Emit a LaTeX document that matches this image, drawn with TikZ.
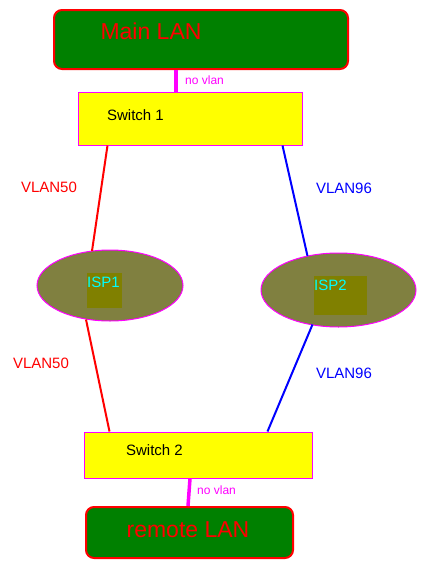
\documentclass[tikz,border=0pt]{standalone}
\usepackage{fontspec}
\setmainfont{Liberation Sans}
\usetikzlibrary{shapes.geometric,calc}
\definecolor{lgreen}{HTML}{008000}
\definecolor{lred}{HTML}{FF0000}
\definecolor{lyellow}{HTML}{FFFF00}
\definecolor{lmag}{HTML}{FF00FF}
\definecolor{lolivegray}{HTML}{808040}
\definecolor{lolive}{HTML}{808000}
\definecolor{lcyan}{HTML}{00FFFF}
\definecolor{lblue}{HTML}{0000FF}
\tikzset{
  lanbox/.style={draw=lred, line width=2pt, fill=lgreen, rounded corners=8pt, inner sep=0pt},
  lantext/.style={text=lred, font=\fontsize{23}{26}\selectfont, inner sep=0pt},
  swbox/.style={draw=lmag, line width=1pt, fill=lyellow, inner sep=0pt},
  swtext/.style={text=black, font=\fontsize{15}{18}\selectfont, inner sep=0pt},
  ispell/.style={ellipse, draw=lmag, line width=1pt, fill=lolivegray, inner sep=0pt},
  ispsq/.style={fill=lolive, inner sep=0pt},
  isptext/.style={text=lcyan, font=\fontsize{15}{18}\selectfont, inner sep=0pt},
  vlantext/.style={font=\fontsize{15}{18}\selectfont, inner sep=0pt},
  novlan/.style={text=lmag, font=\fontsize{12}{14}\selectfont, inner sep=0pt},
  uplink/.style={draw=lmag, line width=3.5pt},
  redlink/.style={draw=lred, line width=2pt},
  bluelink/.style={draw=lblue, line width=2pt}
}
\begin{document}
\begin{tikzpicture}[x=1pt,y=-1pt]
\useasboundingbox (0,0) rectangle (428,573);
% LAN boxes
\node[lanbox, minimum width=294pt, minimum height=59pt] (main) at (201,39.5) {};
\node[lantext] (maint) at (151,31) {Main LAN};
\node[lanbox, minimum width=207pt, minimum height=51pt] (remote) at (189.5,532.5) {};
\node[lantext] (remotet) at (188,530) {remote LAN};
% switches
\node[swbox, minimum width=224pt, minimum height=53pt] (sw1) at (190,118.5) {};
\node[swtext] (sw1t) at (135.5,115) {Switch 1};
\node[swbox, minimum width=228pt, minimum height=46pt] (sw2) at (198,455) {};
\node[swtext] (sw2t) at (154.5,450) {Switch 2};
% ISPs
\node[ispell, minimum width=146pt, minimum height=71pt] (isp1) at (110,285.5) {};
\node[ispsq, minimum width=35pt, minimum height=35pt] (isp1sq) at (104.5,290.5) {};
\node[isptext] (isp1t) at (103.5,282.5) {ISP1};
\node[ispell, minimum width=155pt, minimum height=74pt] (isp2) at (338.5,290) {};
\node[ispsq, minimum width=53pt, minimum height=39pt] (isp2sq) at (340.5,295.5) {};
\node[isptext] (isp2t) at (330.5,285) {ISP2};
% uplinks
\draw[uplink] ([xshift=-25pt]main.south) -- ([xshift=-14pt]sw1.north);
\node[novlan, anchor=west] (nv1) at (185,80.5) {no vlan};
\draw[uplink] ([xshift=-8pt]sw2.south) -- ([xshift=-1.5pt]remote.north);
\node[novlan, anchor=west] (nv2) at (197,490.5) {no vlan};
% VLAN links
\draw[redlink] ([xshift=30pt]sw1.south west) -- ($(isp1.center)+(-18,-34.5)$);
\draw[redlink] ($(isp1.center)+(-24,34)$) -- ([xshift=26pt]sw2.north west);
\draw[bluelink] ([xshift=-20pt]sw1.south east) -- ($(isp2.center)+(-31,-34)$);
\draw[bluelink] ($(isp2.center)+(-26,34.5)$) -- ([xshift=-45pt]sw2.north east);
% VLAN labels
\node[vlantext, text=lred] (v50a) at (49,187.5) {VLAN50};
\node[vlantext, text=lblue] (v96a) at (344,188) {VLAN96};
\node[vlantext, text=lred] (v50b) at (41,363) {VLAN50};
\node[vlantext, text=lblue] (v96b) at (344,373) {VLAN96};
\end{tikzpicture}
\end{document}
